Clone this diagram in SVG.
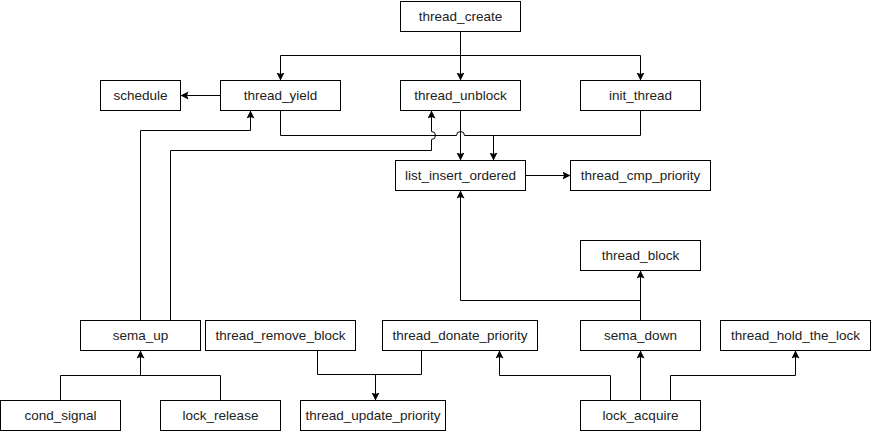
<svg xmlns="http://www.w3.org/2000/svg" width="871" height="431" viewBox="0 0 871 431">
<style>
.n rect{fill:#fff;stroke:#000;stroke-width:1}
.n text{font-family:"Liberation Sans",Arial,sans-serif;font-size:13.5px;fill:#222;text-anchor:middle}
.e path{fill:none;stroke:#000;stroke-width:1}
.a{marker-end:url(#ah)}
</style>
<defs>
<marker id="ah" markerUnits="userSpaceOnUse" markerWidth="10" markerHeight="10" refX="8" refY="4" orient="auto">
<path d="M0,0 L8,4 L0,8 L1.5,4 z" fill="#000"/>
</marker>
</defs>
<rect width="871" height="431" fill="#fff"/>
<g transform="translate(0.5,0.5)">
<g class="e" id="connectors">
<path d="M460,31 V55 H280 V80" class="a"/>
<path d="M460,55 V80" class="a"/>
<path d="M460,55 H640 V80" class="a"/>
<path d="M220,95 H180" class="a"/>
<path d="M280,110 V135 H456 A4,4 0 0 1 464,135 H493 V160" class="a"/>
<path d="M640,110 V135 H493"/>
<path d="M460,110 V160" class="a"/>
<path d="M140,320 V130 H250 V110" class="a"/>
<path d="M170,320 V150 H431 V139 A4,4 0 0 0 431,131 V110" class="a"/>
<path d="M525,175 H570" class="a"/>
<path d="M640,320 V270" class="a"/>
<path d="M640,300 H460 V190" class="a"/>
<path d="M60,400 V375 H220 V400"/>
<path d="M140,375 V350" class="a"/>
<path d="M317,350 V374 H421 V350"/>
<path d="M375,374 V400" class="a"/>
<path d="M610,400 V375 H499 V350" class="a"/>
<path d="M640,400 V350" class="a"/>
<path d="M670,400 V375 H795 V350" class="a"/>
</g>
<g class="n" id="thread_create"><rect x="400" y="1" width="120" height="30"/><text x="460" y="20.5">thread_create</text></g>
<g class="n" id="schedule"><rect x="100" y="80" width="80" height="30"/><text x="140" y="99.5">schedule</text></g>
<g class="n" id="thread_yield"><rect x="220" y="80" width="120" height="30"/><text x="280" y="99.5">thread_yield</text></g>
<g class="n" id="thread_unblock"><rect x="400" y="80" width="120" height="30"/><text x="460" y="99.5">thread_unblock</text></g>
<g class="n" id="init_thread"><rect x="580" y="80" width="120" height="30"/><text x="640" y="99.5">init_thread</text></g>
<g class="n" id="list_insert_ordered"><rect x="395" y="160" width="130" height="30"/><text x="460" y="179.5">list_insert_ordered</text></g>
<g class="n" id="thread_cmp_priority"><rect x="570" y="160" width="140" height="30"/><text x="640" y="179.5">thread_cmp_priority</text></g>
<g class="n" id="thread_block"><rect x="580" y="240" width="120" height="30"/><text x="640" y="259.5">thread_block</text></g>
<g class="n" id="sema_up"><rect x="80" y="320" width="120" height="30"/><text x="140" y="339.5">sema_up</text></g>
<g class="n" id="thread_remove_block"><rect x="205" y="320" width="150" height="30"/><text x="280" y="339.5">thread_remove_block</text></g>
<g class="n" id="thread_donate_priority"><rect x="382" y="320" width="155" height="30"/><text x="459.5" y="339.5">thread_donate_priority</text></g>
<g class="n" id="sema_down"><rect x="580" y="320" width="120" height="30"/><text x="640" y="339.5">sema_down</text></g>
<g class="n" id="thread_hold_the_lock"><rect x="720" y="320" width="150" height="30"/><text x="795" y="339.5">thread_hold_the_lock</text></g>
<g class="n" id="cond_signal"><rect x="0" y="400" width="120" height="30"/><text x="60" y="419.5">cond_signal</text></g>
<g class="n" id="lock_release"><rect x="160" y="400" width="120" height="30"/><text x="220" y="419.5">lock_release</text></g>
<g class="n" id="thread_update_priority"><rect x="300" y="400" width="145" height="30"/><text x="372.5" y="419.5">thread_update_priority</text></g>
<g class="n" id="lock_acquire"><rect x="580" y="400" width="120" height="30"/><text x="640" y="419.5">lock_acquire</text></g>
</g>
</svg>
